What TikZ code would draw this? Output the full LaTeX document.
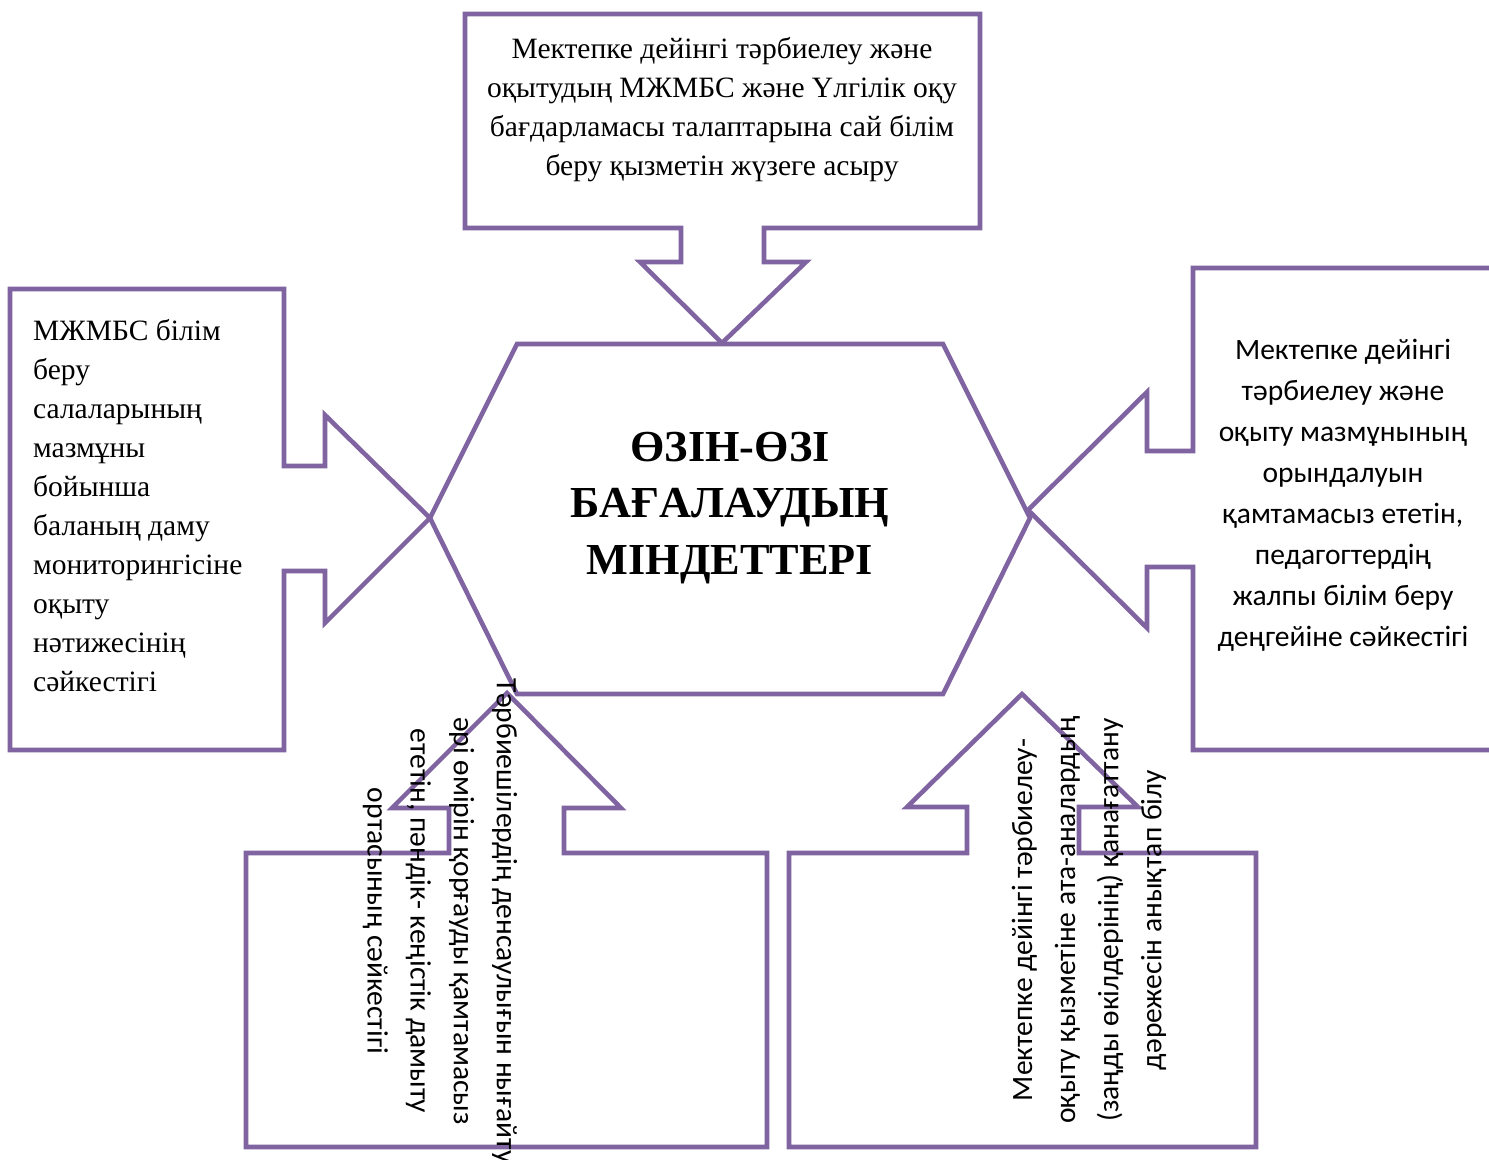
\documentclass[tikz,border=0pt]{standalone}
\usepackage{fontspec}
\setmainfont{Liberation Serif}
\newfontfamily\calibri{Carlito}
\definecolor{lilac}{HTML}{8064A2}
\tikzset{
  outline/.style={draw=lilac,line width=2.6pt,line join=miter},
  serif/.style={font=\fontsize{16.8}{22.2}\selectfont},
  sans/.style={font=\calibri\fontsize{16.8}{23.3}\selectfont},
  sansrot/.style={font=\calibri\fontsize{16.8}{24.5}\selectfont},
}
\begin{document}
\begin{tikzpicture}[x=0.02cm,y=-0.02cm]
\useasboundingbox (0,0) rectangle (1489,1160);
\clip (0,0) rectangle (1489,1160);

% centre
\coordinate (hexW) at (430,518);
\coordinate (hexE) at (1030,518);
\draw[outline](517,344)--(943,344)--(hexE)--(943,694)--(517,694)--(hexW)--cycle;
\node[align=center,font=\bfseries\fontsize{25.2}{32.4}\selectfont] (goal) at (730,508)
  {ӨЗІН-ӨЗІ\\БАҒАЛАУДЫҢ\\МІНДЕТТЕРІ};

% top
\draw[outline](465,14)--(980,14)--(980,228)--(764,228)--(764,262)--(806,262)
  --(722,343)--(640,262)--(681,262)--(681,228)--(465,228)--cycle;
\node[align=center,serif] (top) at (722,110)
  {Мектепке дейінгі тәрбиелеу және\\оқытудың МЖМБС және Үлгілік оқу\\
   бағдарламасы талаптарына сай білім\\беру қызметін жүзеге асыру};

% left
\draw[outline](10,289)--(284,289)--(284,466)--(325,466)--(325,415)--(hexW)
  --(325,623)--(325,571)--(284,571)--(284,750)--(10,750)--cycle;
\node[align=left,serif,anchor=west] (left) at (27,506)
  {МЖМБС білім\\беру\\салаларының\\мазмұны\\бойынша\\баланың даму\\
   мониторингісіне\\оқыту\\нәтижесінің\\сәйкестігі};

% right
\draw[outline](1193,268)--(1510,268)--(1510,750)--(1193,750)--(1193,567)--(1147,567)
  --(1147,628)--(1028,510)--(1147,392)--(1147,451)--(1193,451)--cycle;
\node[align=center,sans] (right) at (1343,495)
  {Мектепке дейінгі\\тәрбиелеу және\\оқыту мазмұнының\\орындалуын\\
   қамтамасыз ететін,\\педагогтердің\\жалпы білім беру\\деңгейіне сәйкестігі};

% bottom left
\draw[outline](246,853)--(449,853)--(449,808)--(392,808)--(507,693)--(621,808)
  --(564,808)--(564,853)--(767,853)--(767,1147)--(246,1147)--cycle;
\node[align=center,sansrot,rotate=-90] (botL) at (440,921)
  {Тәрбиешілердің денсаулығын нығайту\\әрі өмірін қорғауды қамтамасыз\\
   ететін, пәндік- кеңістік дамыту\\ортасының сәйкестігі};

% bottom right
\draw[outline](789,853)--(967,853)--(967,807)--(907,807)--(1022,694)--(1138,807)
  --(1079,807)--(1079,853)--(1256,853)--(1256,1147)--(789,1147)--cycle;
\node[align=center,sansrot,rotate=90] (botR) at (1089,920)
  {Мектепке дейінгі тәрбиелеу-\\оқыту қызметіне ата-аналардың\\
   (заңды өкілдерінің) қанағаттану\\дәрежесін анықтап білу};
\end{tikzpicture}
\end{document}
